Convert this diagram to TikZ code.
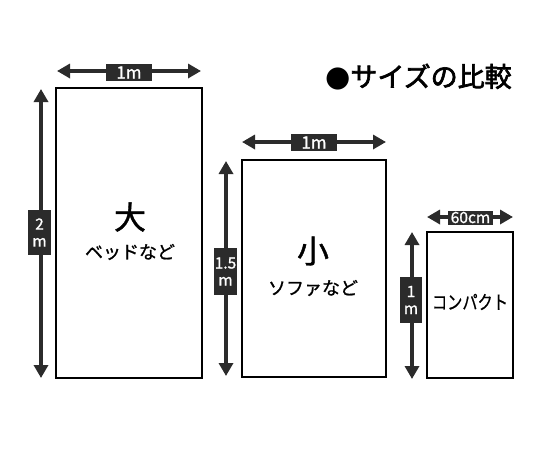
\documentclass[tikz,border=0pt]{standalone}
\usepackage{fontspec}
\setmainfont{Noto Sans CJK JP}
\newfontfamily\cjkb{Noto Sans CJK JP}[FakeBold=2.5]
\newfontfamily\cjkm{Noto Sans CJK JP}[FakeBold=1.2]
\newfontfamily\cjkn{Noto Sans CJK JP}[FakeStretch=0.8, FakeBold=0.6]
\newfontfamily\symb{DejaVu Sans}
\usetikzlibrary{arrows.meta}
\definecolor{dk}{HTML}{2B2B2B}
\tikzset{
  box/.style={draw=black, line width=2.4pt},
  dim/.style={draw=dk, line width=3.6pt, {Triangle[length=13pt,width=14pt]}-{Triangle[length=13pt,width=14pt]}, shorten <=-1pt, shorten >=-1pt},
  tag/.style={fill=dk, text=white, inner sep=0pt, font=\cjkm\fontsize{17}{17}\selectfont, align=center},
  vtag/.style={tag, font=\cjkm\fontsize{15.5}{17}\selectfont},
  big/.style={font=\cjkm\fontsize{32}{32}\selectfont},
  sub/.style={font=\cjkm\fontsize{18}{18}\selectfont}
}
\begin{document}
\begin{tikzpicture}[x=1pt,y=-1pt]
\useasboundingbox (0,0) rectangle (540,450);
% rectangles
\draw[box] (56,88) rectangle (202,378);
\draw[box] (242,160) rectangle (386,377);
\draw[box] (427,232) rectangle (513,378);
% dimension end coordinates
\coordinate (a1) at (58,71); \coordinate (a2) at (200,71);
\coordinate (a3) at (41,90); \coordinate (a4) at (41,377);
\coordinate (b1) at (243,142); \coordinate (b2) at (385,142);
\coordinate (b3) at (226,162); \coordinate (b4) at (226,375);
\coordinate (c1) at (428,217); \coordinate (c2) at (512,217);
\coordinate (c3) at (412,233); \coordinate (c4) at (412,378);
\draw[dim] (a1) -- (a2);
\draw[dim] (a3) -- (a4);
\draw[dim] (b1) -- (b2);
\draw[dim] (b3) -- (b4);
\draw[dim] (c1) -- (c2);
\draw[dim] (c3) -- (c4);
% tags
\node[tag, minimum width=46pt, minimum height=17pt] (ta) at (129,72.5) {1m};
\node[vtag, minimum width=23pt, minimum height=45pt] (tav) at (39.5,232.5) {2\\m};
\node[tag, minimum width=46pt, minimum height=17pt] (tb) at (314,142.5) {1m};
\node[vtag, minimum width=23pt, minimum height=47pt] (tbv) at (225.5,271.5) {1.5\\m};
\node[tag, minimum width=45pt, minimum height=14pt, font=\cjkm\fontsize{15.5}{15.5}\selectfont] (tc) at (470.5,217.5) {60cm};
\node[vtag, minimum width=22pt, minimum height=46pt] (tcv) at (411,300) {1\\m};
% labels
\node[big] (l1) at (130,217) {大};
\node[sub] (s1) at (130,252) {ベッドなど};
\node[big] (l2) at (313,251) {小};
\node[sub] (s2) at (313,288) {ソファなど};
\node[font=\cjkn\fontsize{19}{19}\selectfont, inner sep=0pt] (s3) at (470,302) {コンパクト};
% title
\node[anchor=west, inner sep=0pt] (title) at (325,77) {{\symb\fontsize{29}{29}\selectfont ●}{\cjkb\fontsize{27}{27}\selectfont サイズの比較}};
\end{tikzpicture}
\end{document}
